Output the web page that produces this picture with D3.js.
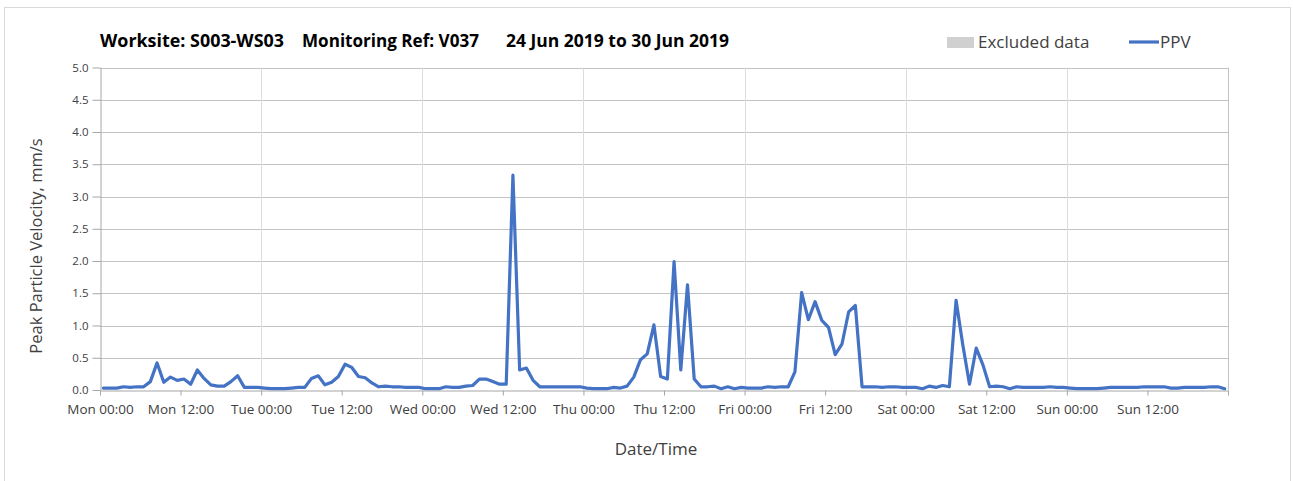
<!DOCTYPE html>
<html>
<head>
<meta charset="utf-8">
<script src="https://cdn.jsdelivr.net/npm/d3@7"></script>
<style>
  html, body { margin: 0; padding: 0; background: #fff; }
  svg { display: block; font-family: "Open Sans", "Noto Sans", sans-serif; }
</style>
</head>
<body>
<svg id="chart" width="1293" height="481"></svg>
<script>
// ---- data ----
const titleParts = ["Worksite: S003-WS03", "Monitoring Ref: V037", "24 Jun 2019 to 30 Jun 2019"];
const startTime = "2019-06-24T00:30:00";   // first reading (hourly readings)
const endTime = "2019-07-01T00:00:00";
const stepMinutes = 60;
const ppv = [
  0.03,0.03,0.03,0.05,0.04,0.05,0.05,0.13,0.42,0.12,0.20,0.15,0.17,0.09,0.31,0.18,0.08,0.06,0.06,0.13,0.22,0.04,0.04,0.04,
  0.03,0.02,0.02,0.02,0.03,0.04,0.04,0.18,0.22,0.08,0.12,0.21,0.40,0.35,0.21,0.19,0.11,0.05,0.06,0.05,0.05,0.04,0.04,0.04,
  0.02,0.02,0.02,0.05,0.04,0.04,0.06,0.07,0.17,0.17,0.13,0.09,0.09,3.33,0.31,0.34,0.15,0.05,0.05,0.05,0.05,0.05,0.05,0.05,
  0.03,0.02,0.02,0.02,0.04,0.03,0.06,0.20,0.47,0.56,1.01,0.21,0.17,1.99,0.31,1.63,0.17,0.05,0.05,0.06,0.02,0.05,0.02,0.04,
  0.03,0.03,0.03,0.05,0.04,0.05,0.05,0.28,1.51,1.09,1.37,1.08,0.97,0.55,0.71,1.21,1.31,0.05,0.05,0.05,0.04,0.05,0.05,0.04,
  0.04,0.04,0.02,0.06,0.04,0.07,0.05,1.39,0.70,0.09,0.65,0.39,0.05,0.06,0.05,0.02,0.05,0.04,0.04,0.04,0.04,0.05,0.04,0.04,
  0.03,0.02,0.02,0.02,0.02,0.03,0.04,0.04,0.04,0.04,0.04,0.05,0.05,0.05,0.05,0.03,0.03,0.04,0.04,0.04,0.04,0.05,0.05,0.02
];
const yTicks = [0, 0.5, 1.0, 1.5, 2.0, 2.5, 3.0, 3.5, 4.0, 4.5, 5.0];
const dayNames = ["Sun","Mon","Tue","Wed","Thu","Fri","Sat"];
const legendItems = ["Excluded data", "PPV"];
const yTitle = "Peak Particle Velocity, mm/s";
const xTitle = "Date/Time";

// ---- layout ----
const svg = d3.select("#chart");
const m = { left: 100, right: 1228, top: 67.5, bottom: 390 };
const lineColor = "#4472c4";
const textColor = "#404040";

svg.append("rect").attr("x", 4.5).attr("y", 7.5).attr("width", 1286).attr("height", 480)
  .attr("fill", "#fff").attr("stroke", "#d9d9d9");

const t0 = new Date("2019-06-24T00:00:00");
const t1 = new Date(endTime);
const x = d3.scaleTime().domain([t0, t1]).range([m.left, m.right]);
const y = d3.scaleLinear().domain([0, 5]).range([m.bottom, m.top]);

const start = new Date(startTime);
const data = ppv.map((v, i) => ({ t: d3.timeMinute.offset(start, i * stepMinutes), v }));

// horizontal gridlines
svg.append("g").selectAll("line").data(yTicks.filter(d => d > 0)).join("line")
  .attr("x1", m.left).attr("x2", m.right)
  .attr("y1", d => Math.round(y(d)) + 0.5).attr("y2", d => Math.round(y(d)) + 0.5)
  .attr("stroke", "#c3c3c3").attr("stroke-width", 1);

// vertical gridlines at day boundaries
const days = d3.timeDay.range(d3.timeDay.offset(t0, 1), t1);
svg.append("g").selectAll("line").data(days).join("line")
  .attr("x1", d => Math.round(x(d)) + 0.5).attr("x2", d => Math.round(x(d)) + 0.5)
  .attr("y1", m.top).attr("y2", m.bottom)
  .attr("stroke", "#dcdcdc").attr("stroke-width", 1);

// right border of plot
svg.append("line").attr("x1", m.right + 0.5).attr("x2", m.right + 0.5)
  .attr("y1", m.top).attr("y2", m.bottom).attr("stroke", "#c3c3c3");

// y axis
const yAxis = d3.axisLeft(y).tickValues(yTicks).tickFormat(d3.format(".1f")).tickSizeInner(8).tickSizeOuter(0).tickPadding(4);
const gy = svg.append("g").attr("transform", `translate(${m.left + 0.5},0)`).call(yAxis);
gy.select(".domain").attr("stroke", "#a6a6a6");
gy.selectAll(".tick line").attr("stroke", "#a6a6a6");
gy.selectAll(".tick text").attr("fill", textColor).style("font-size", "11.5px").style("font-family", "'Open Sans', sans-serif");

// x axis
const ticks12 = d3.timeHour.every(12).range(t0, d3.timeMinute.offset(t1, 1));
const fmt = d => dayNames[d.getDay()] + " " + d3.timeFormat("%H:%M")(d);
const xAxis = d3.axisBottom(x).tickValues(ticks12).tickFormat((d, i) => i < ticks12.length - 1 ? fmt(d) : "")
  .tickSizeInner(5).tickSizeOuter(0).tickPadding(9);
const gx = svg.append("g").attr("transform", `translate(0,${m.bottom + 0.5})`).call(xAxis);
gx.select(".domain").attr("stroke", "#a6a6a6");
gx.selectAll(".tick line").attr("stroke", "#a6a6a6");
gx.selectAll(".tick text").attr("fill", textColor).style("font-size", "13.5px").style("font-family", "'Open Sans', sans-serif");

// data line
const line = d3.line().x(d => x(d.t)).y(d => y(d.v));
svg.append("path").datum(data).attr("d", line)
  .attr("fill", "none").attr("stroke", lineColor).attr("stroke-width", 3.2)
  .attr("stroke-linejoin", "round").attr("stroke-linecap", "round");

// title
const titleX = [100, 302, 506];
const titleW = [184, 177, 223];
svg.append("g").selectAll("text").data(titleParts).join("text")
  .attr("x", (d, i) => titleX[i]).attr("y", 47)
  .attr("textLength", (d, i) => titleW[i]).attr("lengthAdjust", "spacingAndGlyphs")
  .attr("fill", "#000").style("font-size", "17.5px").style("font-weight", "bold")
  .text(d => d);

// legend
svg.append("rect").attr("x", 947).attr("y", 37).attr("width", 27).attr("height", 11).attr("fill", "#d0d0d0");
svg.append("text").attr("x", 978).attr("y", 48).attr("fill", textColor).style("font-size", "17px").text(legendItems[0]);
svg.append("line").attr("x1", 1129).attr("x2", 1159).attr("y1", 42).attr("y2", 42)
  .attr("stroke", lineColor).attr("stroke-width", 3.2);
svg.append("text").attr("x", 1160).attr("y", 48).attr("fill", textColor).style("font-size", "17px").text(legendItems[1]);

// axis titles
svg.append("text").attr("transform", "translate(42,246) rotate(-90)").attr("text-anchor", "middle")
  .attr("fill", textColor).style("font-size", "16.5px").text(yTitle);
svg.append("text").attr("x", 656).attr("y", 455).attr("text-anchor", "middle")
  .attr("fill", textColor).style("font-size", "17px").text(xTitle);
</script>
</body>
</html>
